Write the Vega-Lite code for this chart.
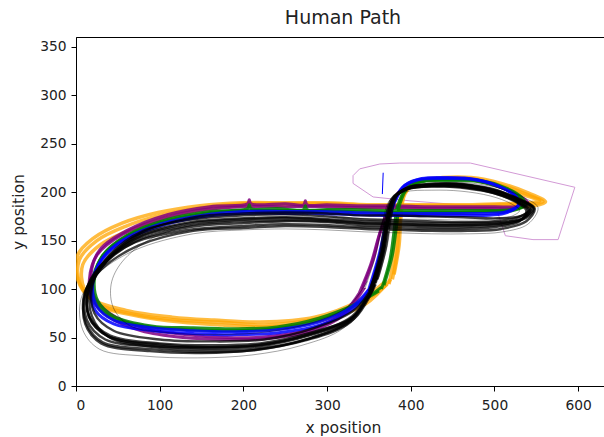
{
  "$schema": "https://vega.github.io/schema/vega-lite/v6.json",
  "autosize": {"type": "none"},
  "padding": {"left": 76, "top": 37, "right": 0, "bottom": 51},
  "width": 534,
  "height": 349,
  "background": "white",
  "title": {"text": "Human Path", "font": "DejaVu Sans", "fontSize": 19, "fontWeight": "normal", "color": "#222", "offset": 9},
  "config": {
    "view": {"stroke": "black", "strokeWidth": 1},
    "axis": {
      "grid": false, "domainColor": "black", "tickColor": "black", "tickSize": 5,
      "labelFont": "DejaVu Sans", "labelFontSize": 13.8, "labelColor": "#222", "labelPadding": 5,
      "titleFont": "DejaVu Sans", "titleFontSize": 15.6, "titleFontWeight": "normal", "titleColor": "#222"
    }
  },
  "datasets": {
    "plumline": [
      {"t": "p", "x": 503, "y": 181}, {"t": "p", "x": 513, "y": 155}, {"t": "p", "x": 546, "y": 151}, {"t": "p", "x": 576, "y": 151},
      {"t": "p", "x": 596, "y": 205}, {"t": "p", "x": 471, "y": 230}, {"t": "p", "x": 387, "y": 230}, {"t": "p", "x": 363, "y": 229},
      {"t": "p", "x": 339, "y": 224}, {"t": "p", "x": 331, "y": 217}, {"t": "p", "x": 331, "y": 209}, {"t": "p", "x": 355, "y": 195},
      {"t": "p", "x": 399, "y": 191}, {"t": "p", "x": 471, "y": 186}, {"t": "p", "x": 503, "y": 181}
    ],
    "orange": [
      {"t": "o1", "x": 378, "y": 110}, {"t": "o1", "x": 384, "y": 140}, {"t": "o1", "x": 386, "y": 170}, {"t": "o1", "x": 391, "y": 196},
      {"t": "o1", "x": 405, "y": 210}, {"t": "o1", "x": 435, "y": 214}, {"t": "o1", "x": 470, "y": 214}, {"t": "o1", "x": 505, "y": 208},
      {"t": "o1", "x": 535, "y": 199}, {"t": "o1", "x": 558, "y": 190}, {"t": "o1", "x": 545, "y": 188}, {"t": "o1", "x": 510, "y": 187},
      {"t": "o1", "x": 470, "y": 186}, {"t": "o1", "x": 430, "y": 186}, {"t": "o1", "x": 390, "y": 186}, {"t": "o1", "x": 350, "y": 186},
      {"t": "o1", "x": 300, "y": 188}, {"t": "o1", "x": 250, "y": 188}, {"t": "o1", "x": 200, "y": 188}, {"t": "o1", "x": 150, "y": 184},
      {"t": "o1", "x": 100, "y": 176}, {"t": "o1", "x": 60, "y": 165}, {"t": "o1", "x": 25, "y": 150}, {"t": "o1", "x": 4, "y": 130},
      {"t": "o1", "x": 5, "y": 105}, {"t": "o1", "x": 25, "y": 85}, {"t": "o1", "x": 70, "y": 74}, {"t": "o1", "x": 120, "y": 68},
      {"t": "o1", "x": 170, "y": 66}, {"t": "o1", "x": 225, "y": 63}, {"t": "o1", "x": 290, "y": 70}, {"t": "o1", "x": 340, "y": 85},
      {"t": "o1", "x": 372, "y": 105},
      {"t": "o2", "x": 374, "y": 105}, {"t": "o2", "x": 381, "y": 138}, {"t": "o2", "x": 384, "y": 168}, {"t": "o2", "x": 389, "y": 195},
      {"t": "o2", "x": 402, "y": 209}, {"t": "o2", "x": 432, "y": 213}, {"t": "o2", "x": 468, "y": 213}, {"t": "o2", "x": 503, "y": 207},
      {"t": "o2", "x": 532, "y": 198}, {"t": "o2", "x": 554, "y": 191}, {"t": "o2", "x": 540, "y": 189}, {"t": "o2", "x": 508, "y": 188},
      {"t": "o2", "x": 468, "y": 187}, {"t": "o2", "x": 428, "y": 187}, {"t": "o2", "x": 388, "y": 187}, {"t": "o2", "x": 348, "y": 187},
      {"t": "o2", "x": 298, "y": 189}, {"t": "o2", "x": 248, "y": 189}, {"t": "o2", "x": 198, "y": 189}, {"t": "o2", "x": 148, "y": 186},
      {"t": "o2", "x": 98, "y": 179}, {"t": "o2", "x": 55, "y": 168}, {"t": "o2", "x": 20, "y": 152}, {"t": "o2", "x": 2, "y": 135},
      {"t": "o2", "x": 2, "y": 110}, {"t": "o2", "x": 18, "y": 90}, {"t": "o2", "x": 60, "y": 78}, {"t": "o2", "x": 115, "y": 71},
      {"t": "o2", "x": 165, "y": 68}, {"t": "o2", "x": 220, "y": 66}, {"t": "o2", "x": 285, "y": 71}, {"t": "o2", "x": 338, "y": 88},
      {"t": "o2", "x": 370, "y": 108},
      {"t": "o3", "x": 380, "y": 115}, {"t": "o3", "x": 386, "y": 145}, {"t": "o3", "x": 388, "y": 172}, {"t": "o3", "x": 393, "y": 198},
      {"t": "o3", "x": 408, "y": 211}, {"t": "o3", "x": 438, "y": 215}, {"t": "o3", "x": 472, "y": 215}, {"t": "o3", "x": 508, "y": 209},
      {"t": "o3", "x": 538, "y": 200}, {"t": "o3", "x": 561, "y": 190}, {"t": "o3", "x": 548, "y": 186}, {"t": "o3", "x": 512, "y": 185},
      {"t": "o3", "x": 472, "y": 184}, {"t": "o3", "x": 432, "y": 184}, {"t": "o3", "x": 392, "y": 184}, {"t": "o3", "x": 352, "y": 184},
      {"t": "o3", "x": 302, "y": 186}, {"t": "o3", "x": 252, "y": 186}, {"t": "o3", "x": 202, "y": 186}, {"t": "o3", "x": 152, "y": 182},
      {"t": "o3", "x": 102, "y": 173}, {"t": "o3", "x": 62, "y": 160}, {"t": "o3", "x": 28, "y": 145}, {"t": "o3", "x": 8, "y": 125},
      {"t": "o3", "x": 10, "y": 100}, {"t": "o3", "x": 30, "y": 82}, {"t": "o3", "x": 75, "y": 72}, {"t": "o3", "x": 125, "y": 66},
      {"t": "o3", "x": 175, "y": 63}, {"t": "o3", "x": 230, "y": 61}, {"t": "o3", "x": 295, "y": 68}, {"t": "o3", "x": 345, "y": 84},
      {"t": "o3", "x": 376, "y": 110}
    ],
    "purple": [
      {"t": "p1", "x": 338, "y": 95}, {"t": "p1", "x": 352, "y": 125}, {"t": "p1", "x": 362, "y": 155}, {"t": "p1", "x": 372, "y": 180},
      {"t": "p1", "x": 386, "y": 200}, {"t": "p1", "x": 405, "y": 210}, {"t": "p1", "x": 435, "y": 213}, {"t": "p1", "x": 470, "y": 213},
      {"t": "p1", "x": 505, "y": 206}, {"t": "p1", "x": 528, "y": 197}, {"t": "p1", "x": 540, "y": 189}, {"t": "p1", "x": 528, "y": 185},
      {"t": "p1", "x": 500, "y": 185}, {"t": "p1", "x": 460, "y": 185}, {"t": "p1", "x": 420, "y": 185}, {"t": "p1", "x": 380, "y": 186},
      {"t": "p1", "x": 340, "y": 186}, {"t": "p1", "x": 300, "y": 187}, {"t": "p1", "x": 276, "y": 187}, {"t": "p1", "x": 274, "y": 191},
      {"t": "p1", "x": 272, "y": 187}, {"t": "p1", "x": 250, "y": 188}, {"t": "p1", "x": 209, "y": 188}, {"t": "p1", "x": 207, "y": 192},
      {"t": "p1", "x": 205, "y": 188}, {"t": "p1", "x": 160, "y": 185}, {"t": "p1", "x": 110, "y": 177}, {"t": "p1", "x": 60, "y": 160},
      {"t": "p1", "x": 28, "y": 140}, {"t": "p1", "x": 18, "y": 115}, {"t": "p1", "x": 22, "y": 92}, {"t": "p1", "x": 40, "y": 75},
      {"t": "p1", "x": 80, "y": 60}, {"t": "p1", "x": 130, "y": 53}, {"t": "p1", "x": 180, "y": 50}, {"t": "p1", "x": 230, "y": 51},
      {"t": "p1", "x": 285, "y": 60}, {"t": "p1", "x": 320, "y": 76}, {"t": "p1", "x": 340, "y": 98},
      {"t": "p2", "x": 342, "y": 100}, {"t": "p2", "x": 355, "y": 130}, {"t": "p2", "x": 364, "y": 160}, {"t": "p2", "x": 374, "y": 183},
      {"t": "p2", "x": 388, "y": 202}, {"t": "p2", "x": 408, "y": 211}, {"t": "p2", "x": 438, "y": 214}, {"t": "p2", "x": 472, "y": 213},
      {"t": "p2", "x": 507, "y": 205}, {"t": "p2", "x": 530, "y": 195}, {"t": "p2", "x": 538, "y": 187}, {"t": "p2", "x": 522, "y": 183},
      {"t": "p2", "x": 495, "y": 183}, {"t": "p2", "x": 455, "y": 183}, {"t": "p2", "x": 415, "y": 183}, {"t": "p2", "x": 375, "y": 184},
      {"t": "p2", "x": 335, "y": 184}, {"t": "p2", "x": 295, "y": 185}, {"t": "p2", "x": 250, "y": 185}, {"t": "p2", "x": 200, "y": 185},
      {"t": "p2", "x": 155, "y": 182}, {"t": "p2", "x": 105, "y": 173}, {"t": "p2", "x": 55, "y": 156}, {"t": "p2", "x": 25, "y": 135},
      {"t": "p2", "x": 16, "y": 110}, {"t": "p2", "x": 20, "y": 88}, {"t": "p2", "x": 38, "y": 72}, {"t": "p2", "x": 78, "y": 57},
      {"t": "p2", "x": 128, "y": 50}, {"t": "p2", "x": 178, "y": 48}, {"t": "p2", "x": 228, "y": 49}, {"t": "p2", "x": 282, "y": 57},
      {"t": "p2", "x": 318, "y": 72}, {"t": "p2", "x": 345, "y": 102}
    ],
    "green": [
      {"t": "g1", "x": 365, "y": 100}, {"t": "g1", "x": 375, "y": 130}, {"t": "g1", "x": 380, "y": 160}, {"t": "g1", "x": 384, "y": 185},
      {"t": "g1", "x": 395, "y": 204}, {"t": "g1", "x": 415, "y": 211}, {"t": "g1", "x": 445, "y": 212}, {"t": "g1", "x": 480, "y": 211},
      {"t": "g1", "x": 510, "y": 204}, {"t": "g1", "x": 530, "y": 194}, {"t": "g1", "x": 535, "y": 186}, {"t": "g1", "x": 520, "y": 182},
      {"t": "g1", "x": 490, "y": 181}, {"t": "g1", "x": 450, "y": 181}, {"t": "g1", "x": 410, "y": 181}, {"t": "g1", "x": 370, "y": 181},
      {"t": "g1", "x": 330, "y": 182}, {"t": "g1", "x": 300, "y": 182}, {"t": "g1", "x": 276, "y": 182}, {"t": "g1", "x": 274, "y": 186},
      {"t": "g1", "x": 272, "y": 182}, {"t": "g1", "x": 240, "y": 183}, {"t": "g1", "x": 209, "y": 183}, {"t": "g1", "x": 207, "y": 187},
      {"t": "g1", "x": 205, "y": 183}, {"t": "g1", "x": 160, "y": 180}, {"t": "g1", "x": 110, "y": 172}, {"t": "g1", "x": 60, "y": 155},
      {"t": "g1", "x": 32, "y": 135}, {"t": "g1", "x": 22, "y": 110}, {"t": "g1", "x": 26, "y": 88}, {"t": "g1", "x": 45, "y": 72},
      {"t": "g1", "x": 90, "y": 62}, {"t": "g1", "x": 140, "y": 60}, {"t": "g1", "x": 190, "y": 59}, {"t": "g1", "x": 240, "y": 61},
      {"t": "g1", "x": 290, "y": 70}, {"t": "g1", "x": 335, "y": 85}, {"t": "g1", "x": 362, "y": 98},
      {"t": "g2", "x": 368, "y": 104}, {"t": "g2", "x": 378, "y": 135}, {"t": "g2", "x": 383, "y": 165}, {"t": "g2", "x": 387, "y": 188},
      {"t": "g2", "x": 398, "y": 206}, {"t": "g2", "x": 418, "y": 212}, {"t": "g2", "x": 448, "y": 213}, {"t": "g2", "x": 483, "y": 212},
      {"t": "g2", "x": 512, "y": 205}, {"t": "g2", "x": 532, "y": 195}, {"t": "g2", "x": 537, "y": 187}, {"t": "g2", "x": 522, "y": 181},
      {"t": "g2", "x": 492, "y": 180}, {"t": "g2", "x": 452, "y": 179}, {"t": "g2", "x": 412, "y": 179}, {"t": "g2", "x": 372, "y": 179},
      {"t": "g2", "x": 332, "y": 180}, {"t": "g2", "x": 292, "y": 181}, {"t": "g2", "x": 242, "y": 181}, {"t": "g2", "x": 192, "y": 181},
      {"t": "g2", "x": 152, "y": 178}, {"t": "g2", "x": 102, "y": 169}, {"t": "g2", "x": 55, "y": 152}, {"t": "g2", "x": 30, "y": 132},
      {"t": "g2", "x": 20, "y": 108}, {"t": "g2", "x": 24, "y": 85}, {"t": "g2", "x": 44, "y": 70}, {"t": "g2", "x": 88, "y": 61},
      {"t": "g2", "x": 138, "y": 58}, {"t": "g2", "x": 188, "y": 57}, {"t": "g2", "x": 238, "y": 59}, {"t": "g2", "x": 288, "y": 67},
      {"t": "g2", "x": 333, "y": 83}, {"t": "g2", "x": 365, "y": 102}
    ],
    "blue": [
      {"t": "b1", "x": 350, "y": 100}, {"t": "b1", "x": 362, "y": 135}, {"t": "b1", "x": 370, "y": 165}, {"t": "b1", "x": 378, "y": 185},
      {"t": "b1", "x": 390, "y": 205}, {"t": "b1", "x": 410, "y": 213}, {"t": "b1", "x": 440, "y": 214}, {"t": "b1", "x": 475, "y": 213},
      {"t": "b1", "x": 505, "y": 206}, {"t": "b1", "x": 525, "y": 196}, {"t": "b1", "x": 530, "y": 188}, {"t": "b1", "x": 515, "y": 180},
      {"t": "b1", "x": 490, "y": 178}, {"t": "b1", "x": 450, "y": 178}, {"t": "b1", "x": 410, "y": 178}, {"t": "b1", "x": 370, "y": 178},
      {"t": "b1", "x": 330, "y": 179}, {"t": "b1", "x": 290, "y": 180}, {"t": "b1", "x": 250, "y": 180}, {"t": "b1", "x": 200, "y": 180},
      {"t": "b1", "x": 150, "y": 176}, {"t": "b1", "x": 100, "y": 167}, {"t": "b1", "x": 55, "y": 150}, {"t": "b1", "x": 30, "y": 130},
      {"t": "b1", "x": 20, "y": 105}, {"t": "b1", "x": 25, "y": 82}, {"t": "b1", "x": 45, "y": 68}, {"t": "b1", "x": 90, "y": 60},
      {"t": "b1", "x": 140, "y": 57}, {"t": "b1", "x": 190, "y": 56}, {"t": "b1", "x": 240, "y": 58}, {"t": "b1", "x": 290, "y": 66},
      {"t": "b1", "x": 330, "y": 82}, {"t": "b1", "x": 352, "y": 102},
      {"t": "b2", "x": 353, "y": 104}, {"t": "b2", "x": 364, "y": 138}, {"t": "b2", "x": 372, "y": 168}, {"t": "b2", "x": 380, "y": 188},
      {"t": "b2", "x": 393, "y": 207}, {"t": "b2", "x": 413, "y": 214}, {"t": "b2", "x": 443, "y": 215}, {"t": "b2", "x": 478, "y": 213},
      {"t": "b2", "x": 508, "y": 205}, {"t": "b2", "x": 527, "y": 194}, {"t": "b2", "x": 528, "y": 186}, {"t": "b2", "x": 512, "y": 178},
      {"t": "b2", "x": 487, "y": 176}, {"t": "b2", "x": 447, "y": 176}, {"t": "b2", "x": 407, "y": 176}, {"t": "b2", "x": 367, "y": 176},
      {"t": "b2", "x": 327, "y": 177}, {"t": "b2", "x": 287, "y": 178}, {"t": "b2", "x": 247, "y": 178}, {"t": "b2", "x": 197, "y": 178},
      {"t": "b2", "x": 147, "y": 174}, {"t": "b2", "x": 97, "y": 164}, {"t": "b2", "x": 50, "y": 146}, {"t": "b2", "x": 27, "y": 125},
      {"t": "b2", "x": 18, "y": 100}, {"t": "b2", "x": 23, "y": 78}, {"t": "b2", "x": 45, "y": 64}, {"t": "b2", "x": 92, "y": 57},
      {"t": "b2", "x": 142, "y": 54}, {"t": "b2", "x": 192, "y": 53}, {"t": "b2", "x": 242, "y": 55}, {"t": "b2", "x": 292, "y": 63},
      {"t": "b2", "x": 332, "y": 80}, {"t": "b2", "x": 355, "y": 106}
    ],
    "spike": [
      {"t": "s", "x": 366, "y": 198}, {"t": "s", "x": 367, "y": 220}
    ],
    "greythin": [
      {"t": "k5", "x": 345, "y": 100}, {"t": "k5", "x": 358, "y": 135}, {"t": "k5", "x": 366, "y": 168}, {"t": "k5", "x": 375, "y": 192},
      {"t": "k5", "x": 392, "y": 200}, {"t": "k5", "x": 425, "y": 202}, {"t": "k5", "x": 460, "y": 201}, {"t": "k5", "x": 495, "y": 196},
      {"t": "k5", "x": 520, "y": 188}, {"t": "k5", "x": 530, "y": 181}, {"t": "k5", "x": 520, "y": 175}, {"t": "k5", "x": 495, "y": 172},
      {"t": "k5", "x": 460, "y": 171}, {"t": "k5", "x": 420, "y": 172}, {"t": "k5", "x": 380, "y": 172}, {"t": "k5", "x": 340, "y": 173},
      {"t": "k5", "x": 300, "y": 174}, {"t": "k5", "x": 250, "y": 174}, {"t": "k5", "x": 200, "y": 171}, {"t": "k5", "x": 140, "y": 166},
      {"t": "k5", "x": 90, "y": 152}, {"t": "k5", "x": 55, "y": 128}, {"t": "k5", "x": 42, "y": 105}, {"t": "k5", "x": 45, "y": 80},
      {"t": "k5", "x": 65, "y": 62}, {"t": "k5", "x": 110, "y": 55}, {"t": "k5", "x": 170, "y": 53}, {"t": "k5", "x": 230, "y": 56},
      {"t": "k5", "x": 285, "y": 66}, {"t": "k5", "x": 325, "y": 82}, {"t": "k5", "x": 348, "y": 108},
      {"t": "k6", "x": 362, "y": 112}, {"t": "k6", "x": 372, "y": 145}, {"t": "k6", "x": 378, "y": 178}, {"t": "k6", "x": 386, "y": 199},
      {"t": "k6", "x": 405, "y": 207}, {"t": "k6", "x": 440, "y": 210}, {"t": "k6", "x": 475, "y": 209}, {"t": "k6", "x": 510, "y": 203},
      {"t": "k6", "x": 536, "y": 194}, {"t": "k6", "x": 552, "y": 184}, {"t": "k6", "x": 540, "y": 167}, {"t": "k6", "x": 510, "y": 159},
      {"t": "k6", "x": 470, "y": 157}, {"t": "k6", "x": 425, "y": 157}, {"t": "k6", "x": 385, "y": 158}, {"t": "k6", "x": 345, "y": 159},
      {"t": "k6", "x": 300, "y": 161}, {"t": "k6", "x": 250, "y": 162}, {"t": "k6", "x": 200, "y": 161}, {"t": "k6", "x": 140, "y": 157},
      {"t": "k6", "x": 70, "y": 140}, {"t": "k6", "x": 25, "y": 115}, {"t": "k6", "x": 6, "y": 90}, {"t": "k6", "x": 8, "y": 58},
      {"t": "k6", "x": 28, "y": 38}, {"t": "k6", "x": 80, "y": 31}, {"t": "k6", "x": 145, "y": 29}, {"t": "k6", "x": 210, "y": 32},
      {"t": "k6", "x": 270, "y": 42}, {"t": "k6", "x": 320, "y": 60}, {"t": "k6", "x": 352, "y": 96}
    ],
    "black": [
      {"t": "k1", "x": 356, "y": 104}, {"t": "k1", "x": 367, "y": 138}, {"t": "k1", "x": 373, "y": 172}, {"t": "k1", "x": 381, "y": 195},
      {"t": "k1", "x": 398, "y": 204}, {"t": "k1", "x": 430, "y": 207}, {"t": "k1", "x": 465, "y": 206}, {"t": "k1", "x": 500, "y": 200},
      {"t": "k1", "x": 528, "y": 191}, {"t": "k1", "x": 543, "y": 182}, {"t": "k1", "x": 533, "y": 172}, {"t": "k1", "x": 505, "y": 166},
      {"t": "k1", "x": 465, "y": 164}, {"t": "k1", "x": 420, "y": 164}, {"t": "k1", "x": 380, "y": 165}, {"t": "k1", "x": 340, "y": 166},
      {"t": "k1", "x": 300, "y": 169}, {"t": "k1", "x": 250, "y": 170}, {"t": "k1", "x": 200, "y": 168}, {"t": "k1", "x": 136, "y": 164},
      {"t": "k1", "x": 73, "y": 150}, {"t": "k1", "x": 33, "y": 125}, {"t": "k1", "x": 14, "y": 99}, {"t": "k1", "x": 17, "y": 70},
      {"t": "k1", "x": 41, "y": 52}, {"t": "k1", "x": 100, "y": 44}, {"t": "k1", "x": 160, "y": 42}, {"t": "k1", "x": 220, "y": 44},
      {"t": "k1", "x": 280, "y": 55}, {"t": "k1", "x": 332, "y": 72}, {"t": "k1", "x": 356, "y": 104},
      {"t": "k2", "x": 352, "y": 100}, {"t": "k2", "x": 363, "y": 135}, {"t": "k2", "x": 369, "y": 168}, {"t": "k2", "x": 377, "y": 193},
      {"t": "k2", "x": 394, "y": 203}, {"t": "k2", "x": 428, "y": 206}, {"t": "k2", "x": 466, "y": 205}, {"t": "k2", "x": 502, "y": 199},
      {"t": "k2", "x": 530, "y": 189}, {"t": "k2", "x": 540, "y": 181}, {"t": "k2", "x": 528, "y": 174}, {"t": "k2", "x": 500, "y": 170},
      {"t": "k2", "x": 460, "y": 169}, {"t": "k2", "x": 420, "y": 170}, {"t": "k2", "x": 380, "y": 171}, {"t": "k2", "x": 340, "y": 172},
      {"t": "k2", "x": 300, "y": 175}, {"t": "k2", "x": 250, "y": 177}, {"t": "k2", "x": 200, "y": 176}, {"t": "k2", "x": 140, "y": 172},
      {"t": "k2", "x": 80, "y": 160}, {"t": "k2", "x": 40, "y": 135}, {"t": "k2", "x": 20, "y": 105}, {"t": "k2", "x": 22, "y": 75},
      {"t": "k2", "x": 45, "y": 57}, {"t": "k2", "x": 100, "y": 48}, {"t": "k2", "x": 160, "y": 46}, {"t": "k2", "x": 225, "y": 48},
      {"t": "k2", "x": 285, "y": 60}, {"t": "k2", "x": 335, "y": 80}, {"t": "k2", "x": 360, "y": 112},
      {"t": "k3", "x": 360, "y": 110}, {"t": "k3", "x": 370, "y": 142}, {"t": "k3", "x": 376, "y": 175}, {"t": "k3", "x": 384, "y": 197},
      {"t": "k3", "x": 402, "y": 205}, {"t": "k3", "x": 435, "y": 208}, {"t": "k3", "x": 470, "y": 207}, {"t": "k3", "x": 505, "y": 201},
      {"t": "k3", "x": 532, "y": 192}, {"t": "k3", "x": 548, "y": 183}, {"t": "k3", "x": 538, "y": 170}, {"t": "k3", "x": 508, "y": 162},
      {"t": "k3", "x": 468, "y": 160}, {"t": "k3", "x": 425, "y": 160}, {"t": "k3", "x": 385, "y": 161}, {"t": "k3", "x": 345, "y": 162},
      {"t": "k3", "x": 300, "y": 164}, {"t": "k3", "x": 250, "y": 165}, {"t": "k3", "x": 200, "y": 163}, {"t": "k3", "x": 140, "y": 160},
      {"t": "k3", "x": 75, "y": 145}, {"t": "k3", "x": 30, "y": 120}, {"t": "k3", "x": 10, "y": 95}, {"t": "k3", "x": 12, "y": 65},
      {"t": "k3", "x": 32, "y": 45}, {"t": "k3", "x": 90, "y": 38}, {"t": "k3", "x": 150, "y": 35}, {"t": "k3", "x": 215, "y": 37},
      {"t": "k3", "x": 275, "y": 48}, {"t": "k3", "x": 325, "y": 66}, {"t": "k3", "x": 355, "y": 100},
      {"t": "k4", "x": 350, "y": 98}, {"t": "k4", "x": 364, "y": 132}, {"t": "k4", "x": 372, "y": 168}, {"t": "k4", "x": 379, "y": 193},
      {"t": "k4", "x": 396, "y": 204}, {"t": "k4", "x": 428, "y": 208}, {"t": "k4", "x": 462, "y": 208}, {"t": "k4", "x": 498, "y": 202},
      {"t": "k4", "x": 526, "y": 193}, {"t": "k4", "x": 546, "y": 184}, {"t": "k4", "x": 536, "y": 174}, {"t": "k4", "x": 507, "y": 168},
      {"t": "k4", "x": 466, "y": 166}, {"t": "k4", "x": 422, "y": 166}, {"t": "k4", "x": 382, "y": 167}, {"t": "k4", "x": 342, "y": 168},
      {"t": "k4", "x": 302, "y": 171}, {"t": "k4", "x": 252, "y": 173}, {"t": "k4", "x": 202, "y": 172}, {"t": "k4", "x": 138, "y": 168},
      {"t": "k4", "x": 76, "y": 154}, {"t": "k4", "x": 36, "y": 128}, {"t": "k4", "x": 16, "y": 101}, {"t": "k4", "x": 15, "y": 72},
      {"t": "k4", "x": 37, "y": 52}, {"t": "k4", "x": 95, "y": 42}, {"t": "k4", "x": 155, "y": 39}, {"t": "k4", "x": 218, "y": 41},
      {"t": "k4", "x": 278, "y": 52}, {"t": "k4", "x": 330, "y": 70}, {"t": "k4", "x": 357, "y": 105},
      {"t": "k7", "x": 354, "y": 102}, {"t": "k7", "x": 366, "y": 137}, {"t": "k7", "x": 371, "y": 170}, {"t": "k7", "x": 380, "y": 195},
      {"t": "k7", "x": 397, "y": 205}, {"t": "k7", "x": 431, "y": 209}, {"t": "k7", "x": 467, "y": 208}, {"t": "k7", "x": 503, "y": 202},
      {"t": "k7", "x": 529, "y": 192}, {"t": "k7", "x": 544, "y": 184}, {"t": "k7", "x": 534, "y": 176}, {"t": "k7", "x": 504, "y": 173},
      {"t": "k7", "x": 463, "y": 174}, {"t": "k7", "x": 420, "y": 175}, {"t": "k7", "x": 380, "y": 176}, {"t": "k7", "x": 340, "y": 176},
      {"t": "k7", "x": 300, "y": 178}, {"t": "k7", "x": 250, "y": 179}, {"t": "k7", "x": 200, "y": 178}, {"t": "k7", "x": 140, "y": 174},
      {"t": "k7", "x": 78, "y": 158}, {"t": "k7", "x": 38, "y": 130}, {"t": "k7", "x": 18, "y": 102}, {"t": "k7", "x": 19, "y": 72},
      {"t": "k7", "x": 40, "y": 50}, {"t": "k7", "x": 95, "y": 40}, {"t": "k7", "x": 155, "y": 37}, {"t": "k7", "x": 220, "y": 39},
      {"t": "k7", "x": 282, "y": 50}, {"t": "k7", "x": 333, "y": 70}, {"t": "k7", "x": 358, "y": 105},
      {"t": "k8", "x": 358, "y": 106}, {"t": "k8", "x": 368, "y": 140}, {"t": "k8", "x": 374, "y": 173}, {"t": "k8", "x": 382, "y": 196},
      {"t": "k8", "x": 400, "y": 206}, {"t": "k8", "x": 432, "y": 206}, {"t": "k8", "x": 466, "y": 204}, {"t": "k8", "x": 499, "y": 199},
      {"t": "k8", "x": 525, "y": 190}, {"t": "k8", "x": 538, "y": 181}, {"t": "k8", "x": 530, "y": 170}, {"t": "k8", "x": 502, "y": 164},
      {"t": "k8", "x": 462, "y": 162}, {"t": "k8", "x": 418, "y": 162}, {"t": "k8", "x": 378, "y": 163}, {"t": "k8", "x": 338, "y": 164},
      {"t": "k8", "x": 298, "y": 166}, {"t": "k8", "x": 248, "y": 167}, {"t": "k8", "x": 198, "y": 165}, {"t": "k8", "x": 134, "y": 161},
      {"t": "k8", "x": 70, "y": 148}, {"t": "k8", "x": 28, "y": 123}, {"t": "k8", "x": 12, "y": 98}, {"t": "k8", "x": 13, "y": 68},
      {"t": "k8", "x": 35, "y": 48}, {"t": "k8", "x": 92, "y": 41}, {"t": "k8", "x": 152, "y": 40}, {"t": "k8", "x": 214, "y": 42},
      {"t": "k8", "x": 276, "y": 53}, {"t": "k8", "x": 330, "y": 72}, {"t": "k8", "x": 356, "y": 104},
      {"t": "k9", "x": 355, "y": 103}, {"t": "k9", "x": 366, "y": 139}, {"t": "k9", "x": 372, "y": 171}, {"t": "k9", "x": 380, "y": 194},
      {"t": "k9", "x": 399, "y": 205}, {"t": "k9", "x": 432, "y": 208}, {"t": "k9", "x": 468, "y": 207}, {"t": "k9", "x": 502, "y": 201},
      {"t": "k9", "x": 530, "y": 192}, {"t": "k9", "x": 547, "y": 183}, {"t": "k9", "x": 537, "y": 173}, {"t": "k9", "x": 506, "y": 169},
      {"t": "k9", "x": 464, "y": 168}, {"t": "k9", "x": 421, "y": 168}, {"t": "k9", "x": 381, "y": 169}, {"t": "k9", "x": 341, "y": 170},
      {"t": "k9", "x": 301, "y": 172}, {"t": "k9", "x": 251, "y": 174}, {"t": "k9", "x": 201, "y": 173}, {"t": "k9", "x": 137, "y": 169},
      {"t": "k9", "x": 74, "y": 155}, {"t": "k9", "x": 34, "y": 129}, {"t": "k9", "x": 15, "y": 100}, {"t": "k9", "x": 16, "y": 71},
      {"t": "k9", "x": 39, "y": 51}, {"t": "k9", "x": 98, "y": 43}, {"t": "k9", "x": 158, "y": 40}, {"t": "k9", "x": 219, "y": 42},
      {"t": "k9", "x": 279, "y": 53}, {"t": "k9", "x": 331, "y": 71}, {"t": "k9", "x": 356, "y": 104},
      {"t": "k10", "x": 352, "y": 100}, {"t": "k10", "x": 365, "y": 136}, {"t": "k10", "x": 372, "y": 170}, {"t": "k10", "x": 379, "y": 194},
      {"t": "k10", "x": 396, "y": 203}, {"t": "k10", "x": 429, "y": 206}, {"t": "k10", "x": 465, "y": 205}, {"t": "k10", "x": 499, "y": 199},
      {"t": "k10", "x": 527, "y": 190}, {"t": "k10", "x": 541, "y": 182}, {"t": "k10", "x": 531, "y": 171}, {"t": "k10", "x": 503, "y": 167},
      {"t": "k10", "x": 464, "y": 166}, {"t": "k10", "x": 420, "y": 166}, {"t": "k10", "x": 381, "y": 167}, {"t": "k10", "x": 341, "y": 168},
      {"t": "k10", "x": 301, "y": 170}, {"t": "k10", "x": 251, "y": 171}, {"t": "k10", "x": 201, "y": 170}, {"t": "k10", "x": 137, "y": 166},
      {"t": "k10", "x": 72, "y": 152}, {"t": "k10", "x": 30, "y": 124}, {"t": "k10", "x": 11, "y": 96}, {"t": "k10", "x": 11, "y": 64},
      {"t": "k10", "x": 30, "y": 44}, {"t": "k10", "x": 88, "y": 36}, {"t": "k10", "x": 150, "y": 34}, {"t": "k10", "x": 212, "y": 37},
      {"t": "k10", "x": 274, "y": 47}, {"t": "k10", "x": 328, "y": 66}, {"t": "k10", "x": 354, "y": 100}
    ]
  },
  "encoding": {
    "x": {"field": "x", "type": "quantitative", "scale": {"domain": [0, 638], "nice": false, "zero": false},
          "axis": {"title": "x position", "values": [0, 100, 200, 300, 400, 500, 600], "labelPadding": 7, "titlePadding": 9}},
    "y": {"field": "y", "type": "quantitative", "scale": {"domain": [0, 360], "nice": false, "zero": false},
          "axis": {"title": "y position", "values": [0, 50, 100, 150, 200, 250, 300, 350], "titlePadding": 13}},
    "detail": {"field": "t"},
    "order": {"value": null}
  },
  "layer": [
    {"data": {"name": "plumline"}, "mark": {"type": "line", "color": "#d39ad6", "strokeWidth": 1, "clip": true}},
    {"data": {"name": "orange"}, "mark": {"type": "line", "color": "orange", "strokeWidth": 3.5, "opacity": 0.75, "interpolate": "catmull-rom", "clip": true}},
    {"data": {"name": "purple"}, "mark": {"type": "line", "color": "purple", "strokeWidth": 3, "opacity": 0.85, "interpolate": "catmull-rom", "clip": true}},
    {"data": {"name": "green"}, "mark": {"type": "line", "color": "green", "strokeWidth": 3, "opacity": 0.85, "interpolate": "catmull-rom", "clip": true}},
    {"data": {"name": "blue"}, "mark": {"type": "line", "color": "blue", "strokeWidth": 3, "opacity": 0.85, "interpolate": "catmull-rom", "clip": true}},
    {"data": {"name": "spike"}, "mark": {"type": "line", "color": "blue", "strokeWidth": 1, "clip": true}},
    {"data": {"name": "greythin"}, "mark": {"type": "line", "color": "black", "strokeWidth": 0.8, "opacity": 0.45, "interpolate": "catmull-rom", "clip": true}},
    {"data": {"name": "black"}, "mark": {"type": "line", "color": "black", "strokeWidth": 2.4, "opacity": 0.75, "interpolate": "catmull-rom", "clip": true}}
  ]
}
